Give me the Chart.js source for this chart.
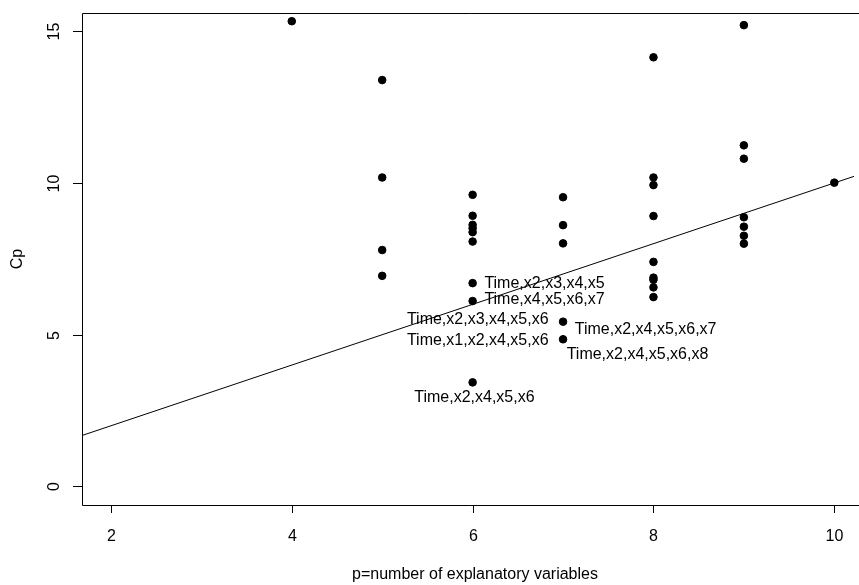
<!DOCTYPE html>
<html>
<head>
<meta charset="utf-8">
<script src="https://cdn.jsdelivr.net/npm/chart.js@4"></script>
<style>
  html, body { margin: 0; padding: 0; background: #fff; }
  #wrap { width: 859px; height: 585px; }
</style>
</head>
<body>
<div id="wrap"><canvas id="cpChart"></canvas></div>
<script>
// p values and Cp values
const pValues = [4, 5, 5, 5, 5, 6, 6, 6, 6, 6, 6, 6, 6, 6, 7, 7, 7, 7, 7,
                 8, 8, 8, 8, 8, 8, 8, 8, 8, 9, 9, 9, 9, 9, 9, 9, 10];
const cpValues = [15.33, 13.39, 10.18, 7.79, 6.94,
                  9.61, 8.92, 8.62, 8.51, 8.38, 8.07, 6.70, 6.11, 3.43,
                  9.53, 8.61, 8.01, 5.43, 4.85,
                  14.14, 10.18, 9.93, 8.91, 7.40, 6.88, 6.81, 6.56, 6.24,
                  15.20, 11.24, 10.80, 8.87, 8.56, 8.26, 8.00, 10.01];

// annotated models: anchor of the text in data units, and its alignment
const labelX = [6.13, 6.13, 6.84, 6.84, 7.13, 7.04, 6.02];
const labelY = [6.70, 6.15, 5.50, 4.82, 5.17, 4.35, 2.92];
const labelText = ["Time,x2,x3,x4,x5", "Time,x4,x5,x6,x7", "Time,x2,x3,x4,x5,x6",
                   "Time,x1,x2,x4,x5,x6", "Time,x2,x4,x5,x6,x7", "Time,x2,x4,x5,x6,x8",
                   "Time,x2,x4,x5,x6"];
const labelAlign = ['left', 'left', 'right', 'right', 'left', 'left', 'center'];

const xTicks = [2, 4, 6, 8, 10];
const yTicks = [0, 5, 10, 15];
const xMin = 1.68, xMax = 10.22, yMin = -0.61, yMax = 15.6;

const FONT = '16px "Liberation Sans", Arial, sans-serif';

const rAxes = {
  id: 'rAxes',
  afterDraw(chart) {
    const ctx = chart.ctx, a = chart.chartArea;
    const xs = chart.scales.x, ys = chart.scales.y;
    ctx.save();
    ctx.strokeStyle = '#000';
    ctx.lineWidth = 1;
    // box (right edge falls outside the picture)
    ctx.beginPath();
    ctx.moveTo(a.right + 5, a.top + 0.5);
    ctx.lineTo(a.left + 0.5, a.top + 0.5);
    ctx.lineTo(a.left + 0.5, a.bottom + 0.5);
    ctx.lineTo(a.right + 5, a.bottom + 0.5);
    ctx.stroke();
    ctx.fillStyle = '#000';
    ctx.font = FONT;
    // x ticks
    ctx.textAlign = 'center';
    ctx.textBaseline = 'middle';
    xTicks.forEach(v => {
      const px = Math.round(xs.getPixelForValue(v)) + 0.5;
      ctx.beginPath(); ctx.moveTo(px, a.bottom); ctx.lineTo(px, a.bottom + 8); ctx.stroke();
      ctx.fillText(String(v), px, a.bottom + 32);
    });
    // y ticks, rotated labels
    yTicks.forEach(v => {
      const py = Math.round(ys.getPixelForValue(v)) + 0.5;
      ctx.beginPath(); ctx.moveTo(a.left, py); ctx.lineTo(a.left - 9, py); ctx.stroke();
      ctx.save();
      ctx.translate(a.left - 27, py);
      ctx.rotate(-Math.PI / 2);
      ctx.fillText(String(v), 0, 0);
      ctx.restore();
    });
    // axis titles
    ctx.fillText('p=number of explanatory variables', 475, 575);
    ctx.save();
    ctx.translate(18, (a.top + a.bottom) / 2);
    ctx.rotate(-Math.PI / 2);
    ctx.fillText('Cp', 0, 0);
    ctx.restore();
    // point labels
    labelText.forEach((t, i) => {
      ctx.textAlign = labelAlign[i];
      ctx.fillText(t, xs.getPixelForValue(labelX[i]), ys.getPixelForValue(labelY[i]));
    });
    ctx.restore();
  }
};

new Chart(document.getElementById('cpChart'), {
  type: 'scatter',
  data: {
    datasets: [{
      label: 'Cp',
      data: pValues.map((p, i) => ({ x: p, y: cpValues[i] })),
      backgroundColor: '#000',
      borderColor: '#000',
      pointRadius: 3.8,
      pointHoverRadius: 3.8
    }, {
      label: 'Cp = p',
      type: 'line',
      data: [{ x: xMin, y: xMin }, { x: xMax, y: xMax }],
      borderColor: '#000',
      borderWidth: 1,
      pointRadius: 0,
      fill: false
    }]
  },
  options: {
    responsive: true,
    maintainAspectRatio: false,
    animation: false,
    layout: { padding: { left: 82, top: 13, right: 0, bottom: 80 } },
    plugins: { legend: { display: false }, tooltip: { enabled: false } },
    scales: {
      x: { type: 'linear', min: xMin, max: xMax, display: false },
      y: { type: 'linear', min: yMin, max: yMax, display: false }
    }
  },
  plugins: [rAxes]
});
</script>
</body>
</html>
